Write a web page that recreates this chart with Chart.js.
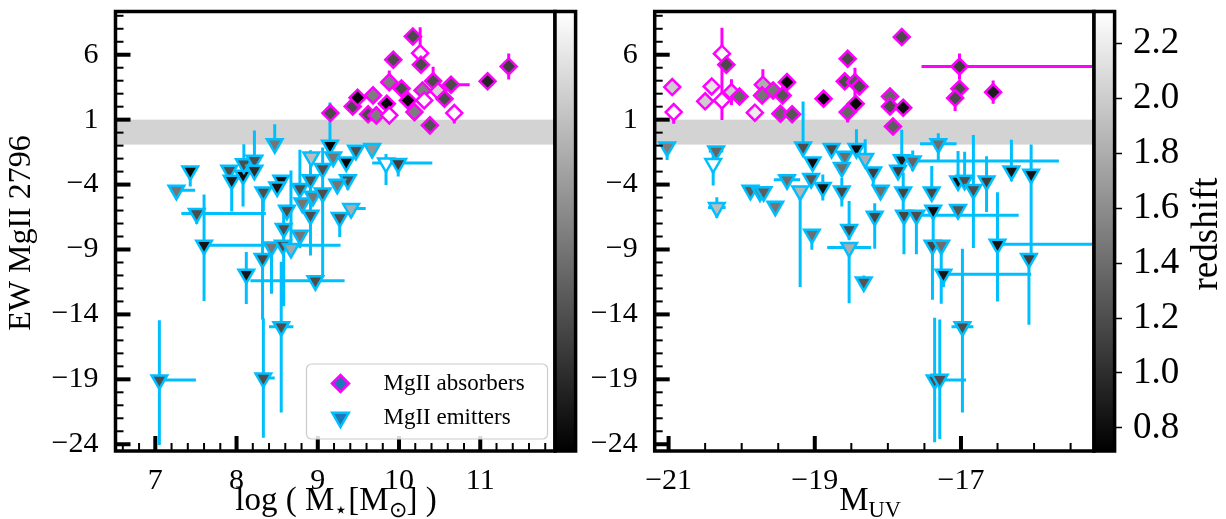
<!DOCTYPE html>
<html>
<head>
<meta charset="utf-8">
<script src="https://cdn.jsdelivr.net/npm/chart.js@4.4.1/dist/chart.umd.min.js"></script>
<style>
html,body{margin:0;padding:0;background:#ffffff;overflow:hidden;}
#wrap{position:relative;width:1226px;height:519px;background:#fff;}
canvas{position:absolute;top:0;}
#cMass{left:0;}
#cMuv{left:590px;}
</style>
</head>
<body>
<div id="wrap">
<canvas id="cMass" width="600" height="519"></canvas>
<canvas id="cMuv" width="636" height="519"></canvas>
</div>
<script>
// ---------------- axis ranges & tick labels ----------------
const massRange = [6.51, 11.92];
const muvRange  = [-21.19, -15.18];
const ewRange   = [-24.52, 9.33];
const zRange    = [0.716, 2.316];
const massTicks = [7, 8, 9, 10, 11];
const muvTicks  = [-21, -19, -17];
const ewTicks   = [6, 1, -4, -9, -14, -19, -24];
const zTicks    = [0.8, 1.0, 1.2, 1.4, 1.6, 1.8, 2.0, 2.2];
const bandEW    = [-0.92, 1.0];

// ---------------- left panel: absorbers (stellar mass) ----------------
const absMass   = [10.17,10.26,9.93,10.27,11.35,11.09,10.64,10.42,10.48,9.88,10.29,10.03,10.11,9.155,9.43,9.49,9.62,9.68,9.72,9.85,9.88,10.19,10.31,10.56,10.68,10.38];
const absMassEW = [7.41,6.12,5.62,5.23,5.10,3.95,3.69,3.97,3.20,3.89,3.25,3.40,2.48,1.51,2.02,2.69,1.41,2.87,1.33,2.23,1.33,1.58,2.48,2.61,1.51,0.56];
const absMassZ  = [1.18,2.3,1.18,1.18,1.1,0.95,1.18,1.18,2.05,1.5,1.5,1.18,0.75,1.18,1.18,0.75,1.18,1.5,1.5,0.75,2.3,1.5,2.3,1.18,2.3,1.22];
const absMassXErr = [[0,0],[0,0],[0,0],[0,0],[0,0],[0,0],[0,0.23],[0,0],[0,0],[0,0],[0,0],[0,0],[0,0],[0,0],[0,0],[0,0],[0,0],[0,0],[0,0],[0,0],[0,0],[0,0],[0,0],[0,0],[0,0],[0,0]];
const absMassYErr = [[0,0],[0.3,2.0],[0,0],[0,0],[1.0,1.0],[0,0],[0,0],[0,1.1],[0,0],[0,0.9],[0,0],[0,0],[0,0],[0,0],[0,0],[0,0],[0,0],[0,0],[0,0],[0,0],[0,0],[0,0],[0,0],[0,0],[0.8,0],[0,0]];

// ---------------- left panel: emitters (stellar mass) ----------------
const emiMass   = [7.43,7.26,7.51,7.60,7.91,7.94,8.08,8.09,8.22,8.22,8.33,8.47,8.55,8.50,8.58,8.62,8.78,8.81,8.92,8.91,8.94,8.91,8.78,9.06,9.06,9.15,9.19,9.35,9.37,9.24,9.27,9.47,9.67,9.41,9.84,9.99,8.32,8.12,8.43,8.57,8.67,8.97,7.05,8.33,8.55];
const emiMassEW = [-2.95,-4.44,-6.23,-8.67,-2.90,-3.67,-3.28,-2.40,-2.13,-2.90,-4.57,-0.85,-3.67,-4.18,-7.38,-5.98,-4.31,-5.42,-1.88,-3.62,-4.90,-6.36,-7.90,-2.77,-4.64,-0.98,-1.88,-2.26,-3.62,-3.98,-6.54,-1.36,-1.23,-5.85,-2.34,-2.38,-9.70,-10.90,-8.80,-8.67,-8.92,-11.40,-19.05,-18.90,-14.95];
const emiMassZ  = [0.8,1.45,1.2,0.85,1.2,0.9,0.8,1.2,1.2,1.0,1.2,1.45,0.8,0.85,1.2,1.2,1.2,1.45,1.9,1.2,1.45,1.2,1.45,1.2,1.2,0.75,1.45,0.75,1.2,1.45,1.2,1.2,1.65,1.8,2.3,1.1,1.15,0.85,1.45,1.2,1.75,1.2,1.2,1.2,1.2];
const emiMassXErr = [[0,0],[0,0.23],[0.19,0.85],[0,1.68],[0,0],[0,0],[0,0],[0,0],[0,0],[0,0],[0,0],[0,0],[0,0],[0,0],[0,0],[0,0],[0,0],[0,0],[0,0],[0,0],[0,0],[0,0],[0,0],[0,0],[0,0],[0,0],[0,0],[0,0],[0,0],[0,0],[0,0],[0,0],[0,0],[0,0.18],[0.17,0.57],[0,0],[0,0],[0,0],[0,0],[0,0],[0,0],[0.8,0.36],[0,0.45],[0,0.14],[0.15,0.15]];
const emiMassYErr = [[1.2,0],[0,0],[0.8,0],[4.3,3.9],[0,0],[2.4,0],[2.4,0],[0,1.5],[0,2.3],[0,0],[1.5,0],[0,1.5],[0,0],[0,0],[6.0,1.5],[0,0],[0,3.0],[0,0],[0,0],[0,0],[0,0],[3.1,5.0],[1.0,0],[0,0],[6.5,3.5],[0,3.3],[0,0],[0,0],[0.8,0],[0,0],[1.5,0],[0,0],[0,0],[0,0],[1.7,0.7],[1.0,0],[4.7,5.0],[2.3,1.7],[3.6,0],[0,0],[0,6.0],[0,0],[5.0,4.6],[4.6,4.6],[6.6,5.0]];

// ---------------- right panel: absorbers (M_UV) ----------------
const absMuv   = [-20.95,-20.93,-20.27,-20.27,-20.21,-20.41,-20.50,-20.14,-20.03,-19.71,-19.72,-19.82,-19.57,-19.38,-19.44,-19.47,-19.31,-18.88,-18.55,-18.59,-18.45,-18.39,-18.44,-18.55,-17.81,-17.97,-17.97,-17.79,-17.93,-17.02,-17.02,-17.08,-16.56];
const absMuvEW = [3.51,1.58,6.08,2.48,5.23,3.56,2.41,3.12,2.79,3.69,2.87,1.54,3.25,3.89,2.87,1.46,1.41,2.61,5.69,3.95,3.89,3.56,2.23,1.58,7.36,2.79,2.02,1.92,0.48,5.10,3.38,2.66,3.12];
const absMuvZ  = [2.0,2.3,2.3,2.3,1.18,2.15,2.0,2.0,1.35,1.8,1.45,2.2,1.45,0.75,1.25,1.35,1.25,0.75,1.18,1.18,1.25,1.18,0.75,1.35,1.18,1.35,1.18,0.8,1.3,1.1,1.18,1.18,0.9];
const absMuvXErr = [[0,0],[0,0],[0,0],[0,0],[0,0],[0,0],[0,0],[0,0],[0,0],[0,0],[0,0],[0,0],[0,0],[0,0],[0,0],[0,0],[0,0],[0,0],[0,0],[0,0],[0,0],[0,0],[0,0],[0,0],[0,0],[0,0],[0,0],[0,0],[0,0],[0.52,3.0],[0,0],[0,0],[0,0]];
const absMuvYErr = [[0,0],[0.9,0],[0.5,2.0],[1.5,3.0],[0,0],[0,0],[0,0],[1.0,1.0],[0,0],[0,1.2],[0,0],[0,0],[0,0],[0,0],[0,0],[0,0],[0,0],[0,0],[0,0],[0,0],[1.1,1.1],[0,0],[0,0],[0.8,0],[0,0],[0,0],[0,0],[0,0],[0,0],[1.0,1.0],[0,0],[1.0,0],[0.9,0.9]];

// ---------------- right panel: emitters (M_UV) ----------------
const emiMuv   = [-21.02,-20.35,-20.39,-20.34,-19.88,-19.75,-19.70,-19.54,-19.38,-19.20,-19.16,-19.03,-19.05,-18.89,-19.04,-18.77,-18.59,-18.63,-18.63,-18.43,-18.31,-18.20,-18.10,-18.18,-18.53,-18.53,-18.33,-17.81,-17.86,-17.66,-17.79,-17.78,-17.61,-17.31,-17.40,-17.38,-17.39,-17.27,-17.24,-17.04,-16.95,-16.83,-17.04,-16.65,-16.31,-16.04,-16.50,-16.07,-17.36,-16.98,-17.29];
const emiMuvEW = [-1.11,-1.42,-2.38,-5.77,-4.44,-4.57,-4.55,-5.67,-3.62,-4.49,-1.11,-2.26,-3.54,-4.23,-7.82,-1.23,-1.82,-2.69,-4.49,-1.23,-2.00,-3.03,-4.44,-6.44,-7.46,-8.85,-11.50,-2.08,-2.90,-2.18,-4.57,-6.36,-6.36,-0.85,-4.57,-5.98,-8.67,-8.67,-10.90,-3.72,-3.67,-4.38,-5.92,-3.72,-2.95,-3.21,-8.60,-9.70,-19.05,-14.95,-19.00];
const emiMuvZ  = [1.5,1.35,2.3,1.9,1.3,1.45,1.3,1.45,1.4,1.85,1.2,0.8,1.25,0.85,1.4,1.15,1.4,1.4,1.15,0.8,1.8,1.1,1.4,1.15,1.15,1.8,1.25,0.9,1.1,1.35,1.15,1.15,1.2,1.4,1.15,0.8,1.15,1.4,0.85,0.8,1.2,1.2,1.25,1.1,0.85,0.85,0.85,1.1,1.2,1.2,1.2];
const emiMuvXErr = [[0,0],[0.1,0.1],[0,0],[0.12,0.12],[0,0],[0,0],[0,0],[0,0],[0.18,0.18],[0,0],[0,0],[0,0],[0,0],[0,0],[0,0],[0,0],[0,0],[0,0],[0,0],[0,0],[0,0],[0,0],[0,0],[0,0],[0,0],[0.3,0.3],[0,0],[0,0],[0,0],[0,2.0],[0,0],[0,0],[0,1.4],[0.25,0.25],[0,0],[0,0],[0,0],[0,0],[0,1.2],[0,0],[0,0],[0,0],[0,0],[0,0],[0,0],[0,0],[0,3.0],[0,0],[0,0.43],[0.15,0.15],[0,0]];
const emiMuvYErr = [[1.0,0],[0,0],[1.7,1.0],[0.8,0.8],[0,0],[0,0],[0,0],[0,0],[0,0],[7.4,0],[0,3.5],[0,0],[0,0],[1.0,1.0],[1.2,0],[0,0],[0,0],[0,0],[1.2,1.0],[0,1.5],[0,1.5],[1.0,0],[0,0],[2.5,1.0],[0.8,2.2],[4.3,0],[0.5,0.5],[0,2.3],[0,0],[0.8,0.8],[1.5,1.5],[3.0,0],[3.0,0],[1.3,0.8],[0,2.0],[3.0,0],[4.2,0],[4.5,0],[1.0,0],[0,2.3],[0,2.2],[4.5,4.2],[0,0],[2.4,1.9],[0.8,2.4],[6.2,2.3],[4.4,4.0],[5.1,0],[4.8,4.8],[6.6,6.0],[4.6,4.6]];

// ---------------- helpers ----------------
const FONT = "'Liberation Serif','Times New Roman',serif";
const MAGENTA = '#ff00ff', CYAN = '#00bfff';

function gray(z){
  let t = (z - zRange[0]) / (zRange[1] - zRange[0]);
  t = Math.max(0, Math.min(1, t));
  const v = Math.round(255 * t);
  return 'rgb(' + v + ',' + v + ',' + v + ')';
}
function pts(xs, ys, zs, xe, ye){
  return xs.map((x, i) => ({x: x, y: ys[i], z: zs[i], xe: xe[i], ye: ye[i]}));
}
function fmtMinus(v){ return v < 0 ? '\u2212' + Math.abs(v) : String(v); }
function absorberSet(data){
  return {label: 'MgII absorbers', data: data, errColor: MAGENTA,
    pointStyle: 'rectRot', pointRadius: 8, pointHoverRadius: 8,
    pointBorderWidth: 2.5, pointBorderColor: MAGENTA,
    pointBackgroundColor: c => c.raw ? gray(c.raw.z) : '#888'};
}
function emitterSet(data){
  return {label: 'MgII emitters', data: data, errColor: CYAN,
    pointStyle: 'triangle', rotation: 180, pointRadius: 9, pointHoverRadius: 9,
    pointBorderWidth: 2.5, pointBorderColor: CYAN,
    pointBackgroundColor: c => c.raw ? gray(c.raw.z) : '#888'};
}
function drawRich(ctx, parts, cx, baseY, size){
  let total = 0;
  const ws = parts.map(p => { ctx.font = (p.sub ? size * 0.68 : size) + 'px ' + FONT; const w = ctx.measureText(p.t).width; total += w; return w; });
  let x = cx - total / 2;
  ctx.textAlign = 'left'; ctx.textBaseline = 'alphabetic';
  parts.forEach((p, i) => {
    ctx.font = (p.sub ? size * 0.68 : size) + 'px ' + FONT;
    ctx.fillText(p.t, x, baseY + (p.sub ? size * 0.2 : 0));
    x += ws[i];
  });
}
function noPad(s){ s.paddingTop = 0; s.paddingBottom = 0; s.paddingLeft = 0; s.paddingRight = 0; }

function decorPlugin(cfg){
  return {
    id: 'decor_' + cfg.name,
    beforeDatasetsDraw(chart){
      const {ctx, chartArea: a, scales: {y}} = chart;
      const yt = y.getPixelForValue(bandEW[1]), yb = y.getPixelForValue(bandEW[0]);
      ctx.save(); ctx.fillStyle = '#d3d3d3'; ctx.fillRect(a.left, yt, a.width, yb - yt); ctx.restore();
    },
    beforeDatasetDraw(chart, args){
      const ds = chart.data.datasets[args.index];
      const {ctx, chartArea: a, scales: {x, y}} = chart;
      ctx.save();
      ctx.beginPath(); ctx.rect(a.left, a.top, a.width, a.height); ctx.clip();
      ctx.strokeStyle = ds.errColor; ctx.lineWidth = 3; ctx.lineCap = 'butt';
      ctx.beginPath();
      ds.data.forEach(p => {
        const px = x.getPixelForValue(p.x), py = y.getPixelForValue(p.y);
        if (p.xe[0] || p.xe[1]) { ctx.moveTo(x.getPixelForValue(p.x - p.xe[0]), py); ctx.lineTo(x.getPixelForValue(p.x + p.xe[1]), py); }
        if (p.ye[0] || p.ye[1]) { ctx.moveTo(px, y.getPixelForValue(p.y - p.ye[0])); ctx.lineTo(px, y.getPixelForValue(p.y + p.ye[1])); }
      });
      ctx.stroke(); ctx.restore();
    },
    afterDraw(chart){
      const {ctx, chartArea: a, scales: {x, y}} = chart;
      ctx.save();
      ctx.fillStyle = '#000';
      for (let v = Math.ceil(ewRange[0]); v <= ewRange[1]; v += 1) {
        if (ewTicks.includes(v)) continue;
        const py = y.getPixelForValue(v); ctx.fillRect(a.left, py - 1, 8, 2);
      }
      for (let k = Math.ceil(cfg.xRange[0] / cfg.xMinor); k * cfg.xMinor <= cfg.xRange[1]; k++) {
        const v = +(k * cfg.xMinor).toFixed(4);
        if (cfg.xTicks.includes(v)) continue;
        const px = x.getPixelForValue(v); ctx.fillRect(px - 1, a.bottom - 8, 2, 8);
      }
      ewTicks.forEach(v => { const py = y.getPixelForValue(v); ctx.fillRect(a.left, py - 2, 15, 4); });
      cfg.xTicks.forEach(v => { const px = x.getPixelForValue(v); ctx.fillRect(px - 2, a.bottom - 15, 4, 15); });
      ctx.strokeStyle = '#000'; ctx.lineWidth = 3.5;
      ctx.strokeRect(a.left, a.top, a.width, a.height);
      const cbW = 20.6;
      const g = ctx.createLinearGradient(0, a.bottom, 0, a.top);
      g.addColorStop(0, '#000'); g.addColorStop(1, '#fff');
      ctx.fillStyle = g; ctx.fillRect(a.right, a.top, cbW, a.height);
      ctx.strokeRect(a.right, a.top, cbW, a.height);
      ctx.fillStyle = '#000';
      if (cfg.yTitle) {
        ctx.save(); ctx.translate(cfg.yTitle.x, cfg.yTitle.y); ctx.rotate(-Math.PI / 2);
        ctx.font = cfg.yTitle.size + 'px ' + FONT; ctx.textAlign = 'center'; ctx.textBaseline = 'middle';
        ctx.fillText(cfg.yTitle.text, 0, 0); ctx.restore();
      }
      drawRich(ctx, cfg.xTitle.parts, cfg.xTitle.x, cfg.xTitle.y, cfg.xTitle.size);
      if (cfg.cbTitle) {
        ctx.save(); ctx.translate(cfg.cbTitle.x, cfg.cbTitle.y); ctx.rotate(-Math.PI / 2);
        ctx.font = cfg.cbTitle.size + 'px ' + FONT; ctx.textAlign = 'center'; ctx.textBaseline = 'middle';
        ctx.fillText(cfg.cbTitle.text, 0, 0); ctx.restore();
      }
      if (cfg.legend) {
        const L = cfg.legend;
        ctx.save();
        ctx.beginPath();
        if (ctx.roundRect) ctx.roundRect(L.x, L.y, L.w, L.h, 5); else ctx.rect(L.x, L.y, L.w, L.h);
        ctx.fillStyle = 'rgba(255,255,255,0.85)'; ctx.fill();
        ctx.strokeStyle = '#cccccc'; ctx.lineWidth = 1.2; ctx.stroke();
        const mx = L.x + 34;
        const y1 = L.y + 19.5, y2 = L.y + 53.5;
        ctx.lineWidth = 2.5; ctx.lineJoin = 'miter';
        ctx.beginPath(); const r = 8.5;
        ctx.moveTo(mx - r, y1); ctx.lineTo(mx, y1 - r); ctx.lineTo(mx + r, y1); ctx.lineTo(mx, y1 + r); ctx.closePath();
        ctx.fillStyle = '#1f77b4'; ctx.fill(); ctx.strokeStyle = MAGENTA; ctx.stroke();
        const t = 9.5;
        ctx.beginPath();
        ctx.moveTo(mx, y2 + t); ctx.lineTo(mx - 0.866 * t, y2 - 0.5 * t); ctx.lineTo(mx + 0.866 * t, y2 - 0.5 * t); ctx.closePath();
        ctx.fillStyle = '#1f77b4'; ctx.fill(); ctx.strokeStyle = CYAN; ctx.stroke();
        ctx.fillStyle = '#000'; ctx.font = L.size + 'px ' + FONT; ctx.textAlign = 'left'; ctx.textBaseline = 'middle';
        ctx.fillText('MgII absorbers', L.x + 77, y1);
        ctx.fillText('MgII emitters', L.x + 77, y2);
        ctx.restore();
      }
      ctx.restore();
    }
  };
}

function axisX(range, ticks){
  return {type: 'linear', position: 'bottom', min: range[0], max: range[1],
    afterBuildTicks: s => { s.ticks = ticks.map(v => ({value: v})); },
    afterFit: s => { s.height = 68; noPad(s); },
    grid: {display: false}, border: {display: false},
    ticks: {autoSkip: false, maxRotation: 0, minRotation: 0, padding: 4, color: '#000',
      font: {family: FONT, size: 30}, callback: v => fmtMinus(v)}};
}
function axisY(width){
  return {type: 'linear', position: 'left', min: ewRange[0], max: ewRange[1],
    afterBuildTicks: s => { s.ticks = ewTicks.map(v => ({value: v})); },
    afterFit: s => { s.width = width; noPad(s); },
    grid: {display: false}, border: {display: false},
    ticks: {autoSkip: false, padding: 9, color: '#000',
      font: {family: FONT, size: 30}, callback: v => fmtMinus(v)}};
}

const common = {
  responsive: false, devicePixelRatio: 1, animation: false, events: [],
  plugins: {legend: {display: false}, tooltip: {enabled: false}}
};

new Chart(document.getElementById('cMass'), {
  type: 'scatter',
  data: {datasets: [
    absorberSet(pts(absMass, absMassEW, absMassZ, absMassXErr, absMassYErr)),
    emitterSet(pts(emiMass, emiMassEW, emiMassZ, emiMassXErr, emiMassYErr))
  ]},
  options: Object.assign({}, common, {
    layout: {padding: {top: 11, right: 45, bottom: 0, left: 0}},
    scales: {x: axisX(massRange, massTicks), y: axisY(115.5)}
  }),
  plugins: [decorPlugin({
    name: 'mass', xRange: massRange, xTicks: massTicks, xMinor: 0.2,
    yTitle: {text: 'EW MgII 2796', x: 22, y: 233, size: 32},
    xTitle: {parts: [{t: 'log ( M'}, {t: '\u22C6', sub: true}, {t: '[M'}, {t: '\u2299', sub: true}, {t: '] )'}], x: 336, y: 510, size: 33},
    legend: {x: 306.5, y: 364, w: 241, h: 75, size: 23}
  })]
});

new Chart(document.getElementById('cMuv'), {
  type: 'scatter',
  data: {datasets: [
    absorberSet(pts(absMuv, absMuvEW, absMuvZ, absMuvXErr, absMuvYErr)),
    emitterSet(pts(emiMuv, emiMuvEW, emiMuvZ, emiMuvXErr, emiMuvYErr))
  ]},
  options: Object.assign({}, common, {
    layout: {padding: {top: 11, right: 0, bottom: 0, left: 0}},
    scales: {
      x: axisX(muvRange, muvTicks),
      y: axisY(64.7),
      z: {type: 'linear', position: 'right', min: zRange[0], max: zRange[1],
        afterBuildTicks: s => { s.ticks = zTicks.map(v => ({value: v})); },
        afterFit: s => { s.width = 132; noPad(s); },
        grid: {display: true, drawOnChartArea: false, drawTicks: true, tickLength: 28, tickWidth: 1.5, tickColor: '#000'},
        border: {display: false},
        ticks: {autoSkip: false, padding: 11, color: '#000', font: {family: FONT, size: 37}, callback: v => v.toFixed(1)}}
    }
  }),
  plugins: [decorPlugin({
    name: 'muv', xRange: muvRange, xTicks: muvTicks, xMinor: 0.5,
    xTitle: {parts: [{t: 'M'}, {t: 'UV', sub: true}], x: 280, y: 510, size: 33},
    cbTitle: {text: 'redshift', x: 617, y: 234, size: 37}
  })]
});
</script>
</body>
</html>
